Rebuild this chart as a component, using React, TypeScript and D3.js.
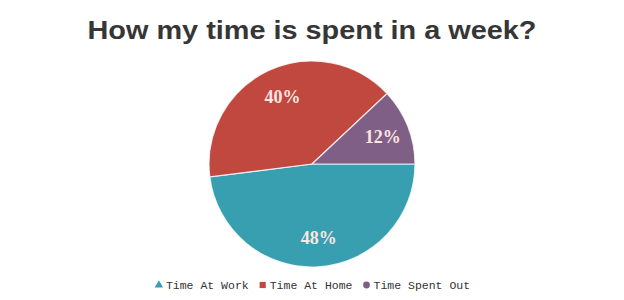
import React from "react";
import * as d3 from "d3";

const categories = ["Time At Work", "Time At Home", "Time Spent Out"];
const values = [48, 40, 12];
const colors = ["#389fb0", "#c1483f", "#7f5f86"];
const symbols = [d3.symbolTriangle, d3.symbolSquare, d3.symbolCircle];
const title = "How my time is spent in a week?";

const W = 624;
const H = 300;
const cx = 312;
const cy = 164;
const R = 103;

export default function App() {
  const pie = d3
    .pie<number>()
    .sort(null)
    .value((d) => d)
    .startAngle(Math.PI / 2)
    .endAngle(Math.PI / 2 + 2 * Math.PI);
  const arcs = pie(values);
  const arc = d3.arc<d3.PieArcDatum<number>>().innerRadius(0).outerRadius(R);
  const labelArc = d3
    .arc<d3.PieArcDatum<number>>()
    .innerRadius(74)
    .outerRadius(74);
  const total = d3.sum(values);

  const fs = 11.5;
  const charW = fs * 0.6;
  const itemW = categories.map((c, i) => 10 + c.length * charW + (i < categories.length - 1 ? 11 : 0));
  const totalW = d3.sum(itemW);
  let x0 = cx - totalW / 2 + 1;
  const legendItems = categories.map((c, i) => {
    const item = { x: x0, c, i };
    x0 += itemW[i];
    return item;
  });

  return (
    <svg
      width={W}
      height={H}
      style={{ position: "absolute", left: 0, top: 0, background: "#fff" }}
    >
      <text
        x={cx}
        y={38.5}
        textAnchor="middle"
        fontFamily="'Liberation Sans', Arial, sans-serif"
        fontWeight="bold"
        fontSize={25}
        textLength={449}
        lengthAdjust="spacingAndGlyphs"
        fill="#363636"
      >
        {title}
      </text>
      <g transform={`translate(${cx},${cy})`}>
        {arcs.map((a, i) => (
          <path
            key={i}
            d={arc(a) || ""}
            fill={colors[i]}
            stroke="#ffffff"
            strokeWidth={1.2}
            strokeOpacity={0.8}
          />
        ))}
        {arcs.map((a, i) => {
          const [lx, ly] = labelArc.centroid(a);
          return (
            <text
              key={"l" + i}
              x={lx + 2}
              y={ly}
              dy="0.35em"
              textAnchor="middle"
              fontFamily="'Liberation Serif', serif"
              fontWeight="bold"
              fontSize={18}
              fill="#fde6e2"
            >
              {Math.round((values[i] / total) * 100) + "%"}
            </text>
          );
        })}
      </g>
      <g>
        {legendItems.map((it) => (
          <g key={it.c}>
            <path
              d={d3.symbol().type(symbols[it.i]).size(it.i === 0 ? 30 : it.i === 1 ? 38 : 36)() || ""}
              transform={`translate(${it.x + 3},${285})`}
              fill={colors[it.i]}
            />
            <text
              x={it.x + 10}
              y={288.5}
              fontFamily="'Courier New', Courier, 'Nimbus Mono PS', 'FreeMono', 'Liberation Mono', monospace"
              fontSize={fs}
              fill="#333"
            >
              {it.c}
            </text>
          </g>
        ))}
      </g>
    </svg>
  );
}
